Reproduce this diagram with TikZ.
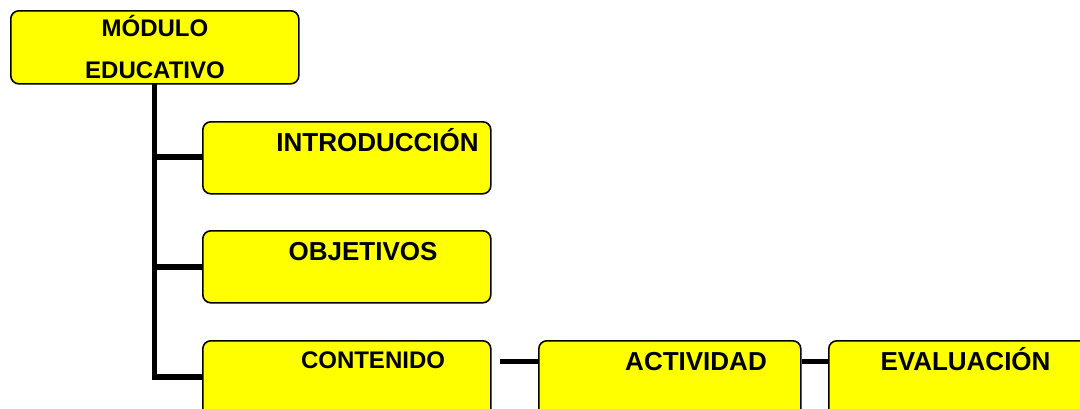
\documentclass[tikz,border=0pt]{standalone}
\usepackage{fontspec}
\setmainfont{Liberation Sans}
\definecolor{boxyellow}{RGB}{255,255,0}
\begin{document}
\begin{tikzpicture}[x=1pt,y=-1pt,
  box/.style={draw=black,line width=1.6pt,fill=boxyellow,rounded corners=8pt,
    anchor=north west,inner sep=0pt},
  conn/.style={line width=5.5pt,draw=black},
  bigtxt/.style={font=\fontsize{26}{30}\selectfont\bfseries,inner sep=0pt,anchor=base},
  midtxt/.style={font=\fontsize{24}{28}\selectfont\bfseries,inner sep=0pt,anchor=base}]
\useasboundingbox (0,0) rectangle (1080,408);
\clip (0,0) rectangle (1080,408);
% boxes
\node[box,minimum width=288pt,minimum height=73pt] (mod) at (10,10) {};
\node[box,minimum width=288pt,minimum height=72pt] (intro) at (202,121) {};
\node[box,minimum width=288pt,minimum height=72pt] (obj) at (202,230) {};
\node[box,minimum width=288pt,minimum height=80pt] (cont) at (202,340) {};
\node[box,minimum width=262pt,minimum height=80pt] (act) at (538,340) {};
\node[box,minimum width=280pt,minimum height=80pt] (eval) at (828,340) {};
% texts
\node[midtxt] (t1) at (155,36) {MÓDULO};
\node[midtxt] (t2) at (155,78) {EDUCATIVO};
\node[bigtxt] (t3) at (377.5,151) {INTRODUCCIÓN};
\node[bigtxt] (t4) at (363,260.5) {OBJETIVOS};
\node[midtxt] (t5) at (373,368.5) {CONTENIDO};
\node[bigtxt] (t6) at (696,370) {ACTIVIDAD};
\node[bigtxt] (t7) at (965.5,370) {EVALUACIÓN};
% connector coordinates
\coordinate (top) at (154.5,84);
\coordinate (j1) at (154.5,157);
\coordinate (j2) at (154.5,267);
\coordinate (corner) at (154.5,377);
\coordinate (cstart) at (500,361.5);
% connectors
\draw[conn] (top) -- (corner) -- (cont.west |- corner);
\draw[conn] (j1) -- (intro.west |- j1);
\draw[conn] (j2) -- (obj.west |- j2);
\draw[conn] (cstart) -- (act.west |- cstart);
\draw[conn] (act.east |- cstart) -- (eval.west |- cstart);
\end{tikzpicture}
\end{document}
